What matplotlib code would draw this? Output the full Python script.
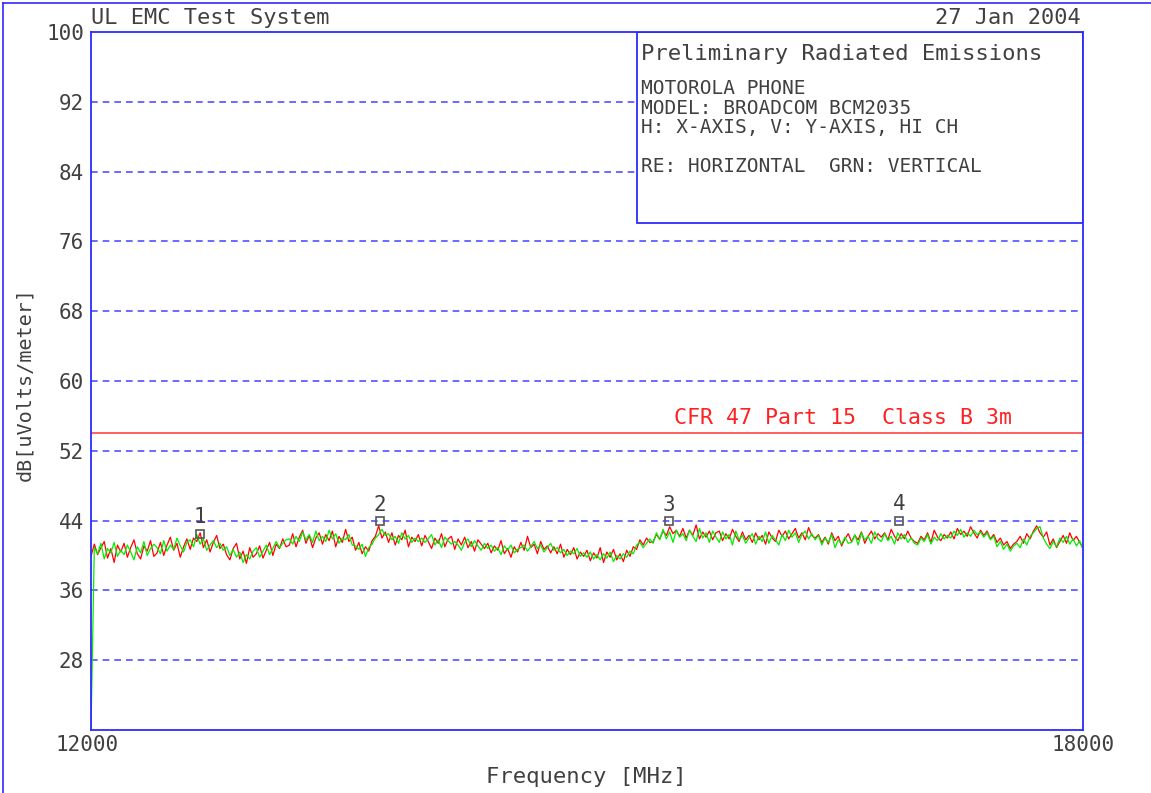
import matplotlib
matplotlib.use("Agg")
import matplotlib.pyplot as plt
from matplotlib.lines import Line2D
from matplotlib.patches import Rectangle

# ---------------- data ----------------
freq_start = 12000
freq_stop = 18000
freq_step = 20
freqs = list(range(freq_start, freq_stop + 1, freq_step))  # 301 points

red_trace = [
    39.9, 41.3, 40.1, 40.9, 41.6, 39.7, 40.8, 39.2, 41.2, 40.4,
    41.4, 39.8, 40.9, 41.8, 40.2, 39.6, 41.1, 40.5, 41.7, 39.9,
    40.3, 41.5, 40.0, 41.2, 42.1, 40.6, 41.4, 39.8, 41.0, 41.9,
    40.7, 42.0, 41.6, 42.6, 40.9, 41.8, 40.4, 41.5, 42.3, 40.8,
    41.3, 40.1, 39.5, 40.8, 41.4, 39.6, 40.5, 39.1, 40.9, 39.8,
    40.2, 41.1, 39.7, 40.6, 41.5, 40.0, 41.3, 40.8, 41.9, 41.0,
    41.2, 42.5, 41.0, 42.1, 42.9, 41.4, 42.3, 40.9, 42.0, 42.6,
    41.3, 42.4, 41.7, 42.8, 41.0, 42.2, 41.5, 43.0, 41.6, 42.1,
    40.6, 41.5, 40.2, 41.0, 40.5, 41.7, 42.2, 43.4, 42.0, 42.7,
    41.5, 42.6, 41.2, 42.3, 41.8, 42.9, 41.0, 42.1, 41.6, 42.4,
    41.1, 42.3, 41.6, 40.8, 42.0, 41.4, 42.5, 41.0, 41.9, 42.2,
    40.7, 41.9, 41.2, 42.1, 40.9, 41.6, 40.5, 41.8, 41.3, 40.8,
    41.4, 40.3, 41.1, 40.6, 41.7, 40.2, 40.8, 39.8, 41.0, 40.4,
    41.5, 40.6, 42.2, 40.9, 41.3, 40.2, 41.6, 40.7, 41.1, 40.3,
    41.0, 40.2, 41.3, 39.8, 40.7, 40.1, 40.9, 39.6, 40.4, 39.9,
    40.6, 39.4, 40.3, 39.7, 40.9, 39.2, 40.4, 39.8, 40.7, 39.5,
    40.2, 39.3, 40.6, 39.9, 41.0, 40.7, 41.8, 41.2, 42.0, 41.5,
    41.6, 42.4, 41.9, 42.8, 42.3, 43.3, 42.5, 42.9, 42.2, 43.1,
    42.0, 42.9, 42.3, 43.5, 41.9, 42.7, 42.1, 42.8, 41.8, 42.6,
    42.8, 41.7, 42.5, 41.9, 43.0, 42.2, 41.6, 42.7, 41.8, 42.3,
    41.5, 42.6, 41.8, 42.3, 41.3, 42.7, 42.0, 41.6, 42.9, 42.2,
    42.8, 41.9, 42.5, 43.1, 42.0, 42.6, 41.8, 43.2, 42.3, 42.0,
    42.4, 41.5, 42.1, 41.3, 42.6, 41.7, 42.2, 41.1, 41.9, 42.5,
    41.6, 42.3, 41.8, 42.7, 41.4, 42.2, 42.8, 41.9, 42.5, 42.1,
    42.6, 41.8, 43.0, 42.2, 41.7, 42.5, 41.9, 42.8, 42.0, 41.6,
    41.4, 42.2, 41.8, 42.6, 41.5, 42.9, 42.1, 41.7, 42.4, 42.0,
    42.7, 41.9, 43.1, 42.4, 42.8, 42.2, 43.3, 42.6, 42.0, 42.9,
    42.3, 42.8, 41.9, 42.4, 41.5, 42.0, 41.2, 41.6, 40.8, 41.3,
    41.6, 42.2, 41.4, 42.5, 41.9, 42.8, 43.4, 42.6, 42.1, 42.7,
    41.2, 41.9, 40.9, 41.6, 42.3, 41.4, 42.6, 41.7, 42.2, 41.5,
    40.9,
]

green_trace = [
    20.0, 40.9, 40.2, 41.4, 39.6, 40.8, 40.3, 41.5, 39.9, 40.6,
    40.1, 41.2, 40.4, 39.5, 41.0, 40.3, 41.6, 40.0, 40.8, 41.3,
    40.9, 40.2, 41.7, 40.5, 41.2, 40.7, 42.0, 41.1, 40.4, 41.5,
    41.8, 41.0, 42.4, 41.3, 41.9, 40.6, 41.2, 41.7, 40.9, 41.4,
    40.6, 41.0, 40.0, 40.7, 39.8, 40.4, 39.2, 40.1, 39.6, 40.5,
    40.9, 39.8, 40.5, 41.2, 40.1, 40.8, 41.6, 40.9, 41.4, 41.8,
    41.9, 41.3, 42.2, 41.6, 42.7, 41.8, 42.4, 41.5, 42.8, 41.7,
    42.2, 41.6, 42.9, 41.9, 42.5, 41.4, 42.0, 41.8, 42.4, 41.2,
    41.1, 40.7, 41.3, 39.9, 40.9, 41.3, 42.0, 42.4, 43.0, 42.3,
    42.5, 41.8, 42.2, 41.4, 42.6, 41.9, 42.3, 41.5, 42.0, 41.6,
    42.0, 41.5, 41.9, 42.4, 41.2, 41.8, 40.9, 42.1, 41.7, 41.3,
    41.6, 41.2, 40.6, 41.5, 41.9, 41.0, 41.7, 41.1, 40.6, 41.4,
    40.8, 41.2, 40.5, 40.9, 40.1, 41.1, 40.6, 41.2, 40.3, 40.7,
    40.9, 41.2, 40.5, 41.0, 41.6, 40.8, 41.2, 40.4, 40.9, 41.4,
    40.6, 40.9, 40.3, 40.7, 40.0, 40.5, 40.2, 40.8, 39.9, 40.3,
    39.8, 40.4, 39.6, 40.1, 39.5, 40.2, 39.7, 40.4, 39.3, 40.0,
    39.6, 40.2, 39.8, 40.5, 40.2, 41.2, 41.5, 40.9, 41.4, 41.9,
    41.4, 42.6, 41.8, 43.0, 41.9, 42.7, 41.5, 42.9, 42.1, 42.5,
    41.7, 42.9, 42.2, 41.6, 43.1, 42.0, 42.6, 41.5, 42.8, 42.1,
    41.5, 42.7, 41.9, 42.4, 41.2, 42.8, 41.8, 42.3, 41.4, 42.0,
    42.5, 41.3, 42.2, 41.6, 42.7, 41.4, 42.3, 41.8, 41.2, 42.4,
    41.7, 42.9, 42.1, 42.6, 41.5, 42.4, 42.8, 41.9, 42.5, 41.8,
    42.3, 41.2, 42.0, 41.5, 42.4, 40.9, 41.8, 41.3, 42.1, 41.4,
    41.5, 42.4, 41.2, 42.6, 41.8, 42.2, 41.4, 42.7, 41.9, 41.6,
    42.5, 41.7, 42.2, 41.3, 42.6, 41.9, 42.4, 41.5, 42.0, 41.4,
    41.2, 42.0, 41.6, 42.4, 41.3, 42.1, 41.7, 42.5, 41.9, 42.3,
    42.0, 42.8, 42.3, 43.0, 42.1, 42.6, 42.2, 42.9, 42.4, 42.7,
    42.1, 42.6, 41.8, 42.2, 41.0, 41.6, 40.7, 41.3, 40.5, 41.1,
    41.4, 40.9, 41.9, 41.2, 42.2, 42.6, 43.1, 43.3, 42.0, 41.3,
    40.8, 41.6, 41.0, 42.0, 41.5, 42.2, 41.3, 41.9, 41.1, 41.7,
    40.7,
]

limit_level = 54.0
limit_label = "CFR 47 Part 15  Class B 3m"

marker_ids = ["1", "2", "3", "4"]
marker_freqs = [12659, 13748, 15496, 16887]
marker_levels = [42.5, 43.9, 43.9, 44.0]

y_ticks = [28, 36, 44, 52, 60, 68, 76, 84, 92, 100]
y_min, y_max = 20, 100

header_left = "UL EMC Test System"
header_right = "27 Jan 2004"
box_title = "Preliminary Radiated Emissions"
box_lines = ["MOTOROLA PHONE", "MODEL: BROADCOM BCM2035", "H: X-AXIS, V: Y-AXIS, HI CH"]
box_legend = "RE: HORIZONTAL  GRN: VERTICAL"
x_label = "Frequency [MHz]"
y_label = "dB[uVolts/meter]"

# ---------------- styling ----------------
FONT = "DejaVu Sans Mono"
TXT = "#404040"
BLUE = "#2b2bff"
GRID = "#5050ff"

W, H = 1151, 793
fig = plt.figure(figsize=(W / 100, H / 100), dpi=100)
fig.patch.set_facecolor("white")


def fx(px):
    return px / W


def fy(py):
    return 1 - py / H


ax = fig.add_axes([fx(91), fy(730), fx(1083) - fx(91), fy(32) - fy(730)])
ax.set_xlim(freq_start, freq_stop)
ax.set_ylim(y_min, y_max)

for s in ax.spines.values():
    s.set_color(BLUE)
    s.set_linewidth(1.3)
    s.set_zorder(8)

# grid lines
for yv in y_ticks[:-1]:
    ax.axhline(yv, color=GRID, lw=1.2, ls=(0, (4, 3)), zorder=1)

# traces
ax.plot(freqs, red_trace, color="#ff0000", lw=0.9, zorder=3)
ax.plot(freqs, green_trace, color="#00ee00", lw=0.9, zorder=4)

# limit line
ax.axhline(limit_level, color="#ff6060", lw=1.4, zorder=2)
ax.text(16551, limit_level + 0.6, limit_label, color="#ff2020", fontsize=15.5,
        family=FONT, ha="center", va="bottom")

# info box (opaque, hides the grid)
box = Rectangle((fx(637), fy(223)), fx(1083) - fx(637), fy(32) - fy(223),
                transform=fig.transFigure, fc="white", ec=BLUE, lw=1.3, zorder=6)
ax.add_patch(box)

# markers
ax.plot(marker_freqs, marker_levels, ls="none", marker="s", markersize=6,
        mfc="none", mec="#555555", mew=1.2, zorder=5)
for mid, mf, ml in zip(marker_ids, marker_freqs, marker_levels):
    ax.annotate(mid, (mf, ml), xytext=(0, 5), textcoords="offset points",
                ha="center", va="bottom", fontsize=15, family=FONT, color=TXT)

# ticks
ax.set_xticks([])
ax.set_yticks(y_ticks)
ax.set_yticklabels([str(v) for v in y_ticks], family=FONT, fontsize=15, color=TXT)
ax.tick_params(axis="y", length=0, pad=5)

ax.text(freq_start - 25, y_min - 0.6, str(freq_start), ha="center", va="top",
        family=FONT, fontsize=15, color=TXT)
ax.text(freq_stop, y_min - 0.6, str(freq_stop), ha="center", va="top",
        family=FONT, fontsize=15, color=TXT)

# labels
fig.text(fx(586), fy(777), x_label, ha="center", va="center", family=FONT,
         fontsize=16, color=TXT)
fig.text(fx(25), fy(384), y_label, ha="center", va="center", rotation=90,
         family=FONT, fontsize=14.5, color=TXT)

fig.text(fx(91), fy(18), header_left, ha="left", va="center", family=FONT,
         fontsize=15.8, color=TXT)
fig.text(fx(1081), fy(18), header_right, ha="right", va="center", family=FONT,
         fontsize=15.8, color=TXT)

fig.text(fx(641), fy(54), box_title, ha="left", va="center", family=FONT,
         fontsize=16, color=TXT, zorder=7)
for i, line in enumerate(box_lines):
    fig.text(fx(641), fy(89 + 19.5 * i), line, ha="left", va="center",
             family=FONT, fontsize=14, color=TXT, zorder=7)
fig.text(fx(641), fy(167), box_legend, ha="left", va="center", family=FONT,
         fontsize=14, color=TXT, zorder=7)

# outer frame edges (top / left)
fig.add_artist(Line2D([fx(3), 1], [fy(3), fy(3)], transform=fig.transFigure,
                      color=BLUE, lw=1.2))
fig.add_artist(Line2D([fx(3), fx(3)], [0, fy(3)], transform=fig.transFigure,
                      color=BLUE, lw=1.2))

fig.savefig("out.png", dpi=100, facecolor="white")
